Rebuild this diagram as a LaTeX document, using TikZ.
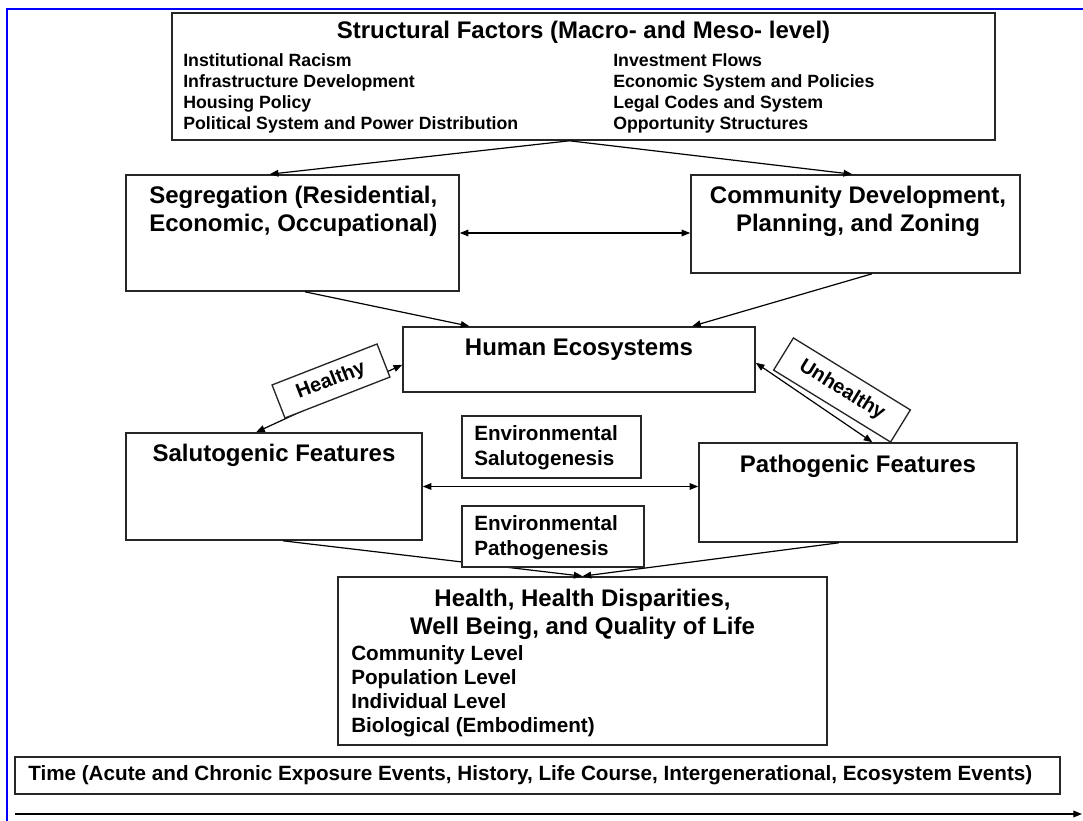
\documentclass[tikz,border=0pt]{standalone}
\usepackage{fontspec}
\setmainfont{Liberation Sans}
\usetikzlibrary{arrows.meta,fit,calc}

\begin{document}
\begin{tikzpicture}[x=0.75pt,y=-0.75pt,
    box/.style={draw=black!85,line width=1.2pt,inner sep=0pt},
    wbox/.style={box,fill=white},
    lbl/.style={inner sep=0pt,font=\fontsize{18}{21}\selectfont\bfseries},
    sml/.style={inner sep=0pt,align=left,font=\fontsize{15.5}{18.75}\selectfont\bfseries},
    itm/.style={inner sep=0pt,align=left,font=\fontsize{13.3}{15.75}\selectfont\bfseries},
    arr/.style={line width=0.9pt,-{Triangle[length=6.5pt,width=5pt]}},
    darr/.style={line width=0.9pt,{Triangle[length=6.5pt,width=5pt]}-{Triangle[length=6.5pt,width=5pt]}},
    tag/.style={draw=black!85,line width=1pt,fill=white,inner sep=0pt,font=\fontsize{15}{18}\selectfont\bfseries}]
        \useasboundingbox (0,0) rectangle (1083,821);
        \draw[blue,line width=2pt] (7,821) -- (7,9) -- (1083,9);

         % structural factors
        \node[box,fit={(172,13) (995,140)}] (top) {};
        \node[lbl] (ttl) at (583.5,32) {Structural Factors (Macro- and Meso- level)};
        \node[itm,anchor=west] (lcol) at (183,93.5) {Institutional Racism\\Infrastructure Development\\Housing Policy\\Political System and Power Distribution};
        \node[itm,anchor=west] (rcol) at (613,93.5) {Investment Flows\\Economic System and Policies\\Legal Codes and System\\Opportunity Structures};

         % segregation and community development
        \node[box,fit={(126,175) (459,291)}] (seg) {};
        \node[lbl,align=left,anchor=west] (segt) at (149,211) {Segregation (Residential,\\Economic, Occupational)};
        \node[box,fit={(691,175) (1020,273)}] (comm) {};
        \node[lbl,align=center] (commt) at (858,211) {Community Development,\\Planning, and Zoning};

        \draw[arr] ($(top.south)+(-14,0)$) -- ($(seg.north west)!0.432!(seg.north east)$);
        \draw[arr] ($(top.south)+(-14,0)$) -- ($(comm.north west)!0.49!(comm.north east)$);
        \draw[darr] (seg.east) -- (seg.east -| comm.west);

         % human ecosystems
        \node[box,fit={(403,327) (755,392)}] (he) {};
        \node[lbl] (het) at (579,350) {Human Ecosystems};
        \draw[arr] ($(seg.south west)!0.537!(seg.south east)$) -- ($(he.north west)!0.19!(he.north east)$);
        \draw[arr] ($(comm.south west)!0.55!(comm.south east)$) -- ($(he.north west)!0.82!(he.north east)$);

         % features
        \node[box,fit={(126,433) (422,540)}] (salu) {};
        \node[lbl] (salut) at (274,455) {Salutogenic Features};
        \node[box,fit={(699,443) (1017,542)}] (patho) {};
        \node[lbl] (pathot) at (858,466) {Pathogenic Features};
        \draw[darr] (salu.east) -- (salu.east -| patho.west);

         % healthy / unhealthy
        \draw[darr] ($(salu.north west)!0.44!(salu.north east)$) -- ($(he.north west)!0.58!(he.south west)$);
        \node[tag,rotate=21.3,minimum width=84.5pt,minimum height=26.6pt] (healthy) at (331,381) {Healthy};
        \draw[darr] ($(he.north east)!0.55!(he.south east)$) -- ($(patho.north west)!0.545!(patho.north east)$);
        \node[tag,rotate=-31.6,minimum width=103pt,minimum height=28.3pt] (unhealthy) at (842,390) {Unhealthy};

         % health
        \node[box,fit={(338,577) (827,745)}] (health) {};
        \node[lbl,align=center] (healtht) at (582.5,614) {Health, Health Disparities,\\Well Being, and Quality of Life};
        \node[sml,anchor=west,font=\fontsize{15.5}{18}\selectfont\bfseries] (healthi) at (351,691) {Community Level\\Population Level\\Individual Level\\Biological (Embodiment)};
        \draw[arr] ($(salu.south west)!0.53!(salu.south east)$) -- (health.north);
        \draw[arr] ($(patho.south west)!0.44!(patho.south east)$) -- (health.north);

         % environmental boxes
        \node[wbox,fit={(462,416) (641,478)}] (envs) {};
        \node[sml,anchor=west] (envst) at (474,447.5) {Environmental\\Salutogenesis};
        \node[wbox,fit={(462,506) (644,567)}] (envp) {};
        \node[sml,anchor=west] (envpt) at (474,537.5) {Environmental\\Pathogenesis};

         % time
        \node[box,fit={(15,757) (1060,794)}] (time) {};
        \node[sml,anchor=west] (timet) at (28,775.5) {Time (Acute and Chronic Exposure Events, History, Life Course, Intergenerational, Ecosystem Events)};
        \coordinate (t0) at (15,814);
        \coordinate (t1) at (1082,814);
        \draw[arr] (t0) -- (t1);
      \end{tikzpicture}
\end{document}
